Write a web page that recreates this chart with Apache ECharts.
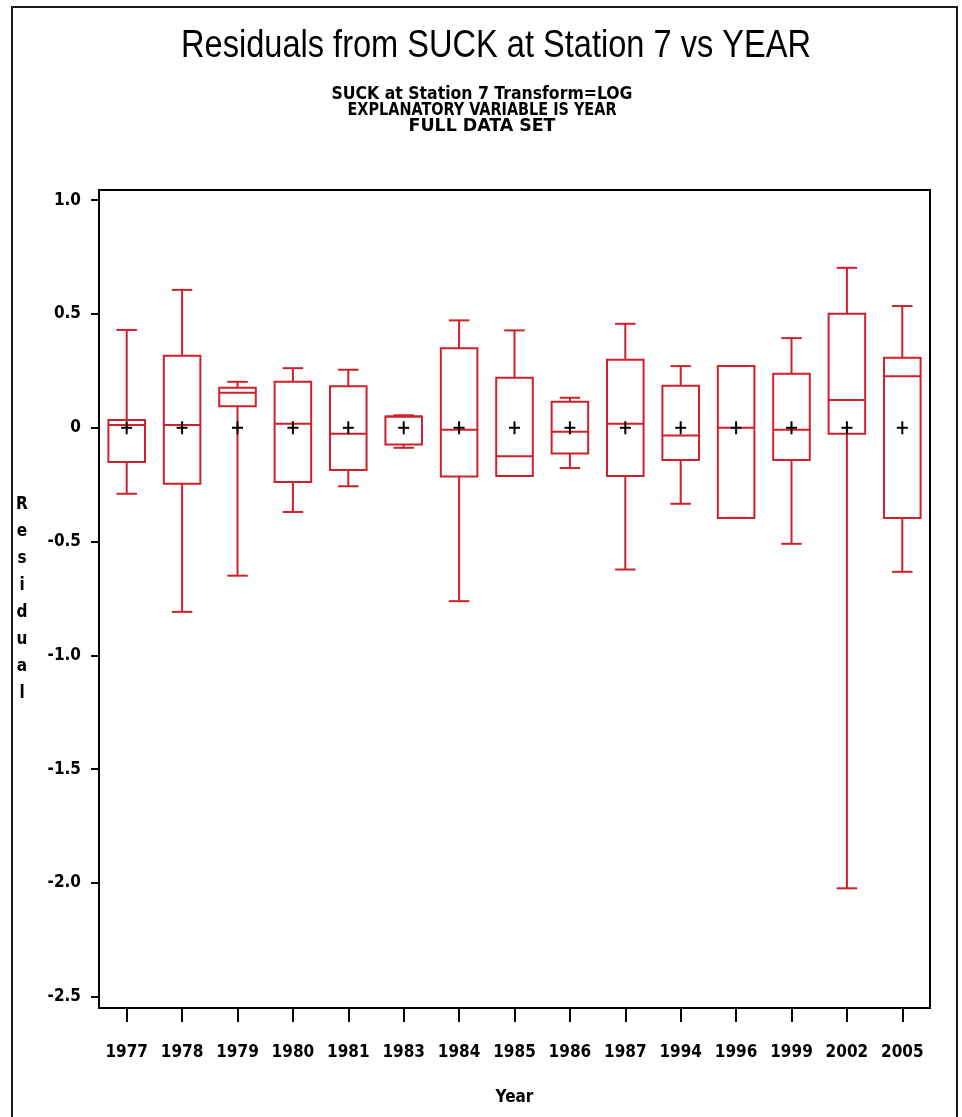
<!DOCTYPE html>
<html>
<head>
<meta charset="utf-8">
<script src="https://cdn.jsdelivr.net/npm/echarts@6/dist/echarts.min.js"></script>
<style>
  html, body { margin: 0; padding: 0; background: #ffffff; }
  #chart { width: 962px; height: 1117px; }
</style>
</head>
<body>
<div id="chart"></div>
<script>
// Residuals by year: whisker ends, quartiles, medians and means
const years = ['1977', '1978', '1979', '1980', '1981', '1983', '1984', '1985',
               '1986', '1987', '1994', '1996', '1999', '2002', '2005'];
const whiskerLow  = [-0.29, -0.809, -0.650, -0.370, -0.257, -0.088, -0.762, -0.212,
                     -0.177, -0.623, -0.334, -0.396, -0.510, -2.024, -0.633];
const quart1      = [-0.150, -0.246, 0.095, -0.238, -0.186, -0.073, -0.214, -0.212,
                     -0.113, -0.212, -0.142, -0.396, -0.142, -0.026, -0.396];
const medians     = [0.012, 0.012, 0.154, 0.018, -0.026, 0.050, -0.009, -0.125,
                     -0.018, 0.018, -0.034, 0.000, -0.009, 0.122, 0.227];
const quart3      = [0.034, 0.317, 0.176, 0.202, 0.183, 0.050, 0.350, 0.220,
                     0.114, 0.299, 0.185, 0.271, 0.237, 0.501, 0.308];
const whiskerHigh = [0.430, 0.606, 0.202, 0.262, 0.255, 0.055, 0.472, 0.428,
                     0.132, 0.457, 0.271, 0.271, 0.394, 0.703, 0.535];
const means       = [0, 0, 0, 0, 0, 0, 0, 0, 0, 0, 0, 0, 0, 0, 0];
const yTicks      = [1.0, 0.5, 0, -0.5, -1.0, -1.5, -2.0, -2.5];

const titleText = 'Residuals from SUCK at Station 7 vs YEAR';
const subTitles = ['SUCK at Station 7 Transform=LOG', 'EXPLANATORY VARIABLE IS YEAR', 'FULL DATA SET'];
const xName = 'Year';
const yName = 'Residual';

const RED = '#d0202a';
const INK = '#000000';
const condensed = "'DejaVu Sans Condensed', 'Liberation Sans Narrow', 'DejaVu Sans', sans-serif";
const swiss = "'Liberation Sans', Arial, sans-serif";

// horizontal squeeze so a text line spans the wanted width
const measureCtx = document.createElement('canvas').getContext('2d');
function squeeze(text, font, width) {
  measureCtx.font = font;
  return width / measureCtx.measureText(text).width;
}

const titleFont = { fontSize: 39, fontFamily: swiss, fontWeight: 'normal' };
const subFont = { fontSize: 17, fontFamily: condensed, fontWeight: 'bold' };
const subWidths = [301, 269, 147];
const subY = [95, 111, 127];

const graphics = [
  {
    type: 'rect', silent: true,
    shape: { x: 12, y: 7, width: 945, height: 1200 },
    style: { fill: 'none', stroke: '#1a1a1a', lineWidth: 2 }
  },
  {
    type: 'text', x: 496, y: 46,
    scaleX: squeeze(titleText, '39px ' + swiss, 630),
    style: Object.assign({ text: titleText, fill: INK, align: 'center', verticalAlign: 'middle' }, titleFont)
  }
];
subTitles.forEach(function (t, k) {
  graphics.push({
    type: 'text', x: 482, y: subY[k],
    scaleX: squeeze(t, 'bold 17px ' + condensed, subWidths[k]),
    style: Object.assign({ text: t, fill: INK, align: 'center', verticalAlign: 'middle' }, subFont)
  });
});

const boxData = years.map(function (y, i) {
  return [i, whiskerLow[i], quart1[i], medians[i], quart3[i], whiskerHigh[i], means[i]];
});

function renderBox(params, api) {
  const i = api.value(0);
  const band = api.size([1, 0])[0];
  const half = band * 0.33;
  const cap = band * 0.185;
  const x = api.coord([i, 0])[0];
  const yLo = api.coord([i, api.value(1)])[1];
  const yQ1 = api.coord([i, api.value(2)])[1];
  const yMed = api.coord([i, api.value(3)])[1];
  const yQ3 = api.coord([i, api.value(4)])[1];
  const yHi = api.coord([i, api.value(5)])[1];
  const yMean = api.coord([i, api.value(6)])[1];
  const red = { stroke: RED, lineWidth: 2, fill: 'none' };
  const ink = { stroke: INK, lineWidth: 2 };
  const children = [
    { type: 'line', shape: { x1: x, y1: yQ3, x2: x, y2: yHi }, style: red },
    { type: 'line', shape: { x1: x - cap, y1: yHi, x2: x + cap, y2: yHi }, style: red },
    { type: 'line', shape: { x1: x, y1: yQ1, x2: x, y2: yLo }, style: red },
    { type: 'line', shape: { x1: x - cap, y1: yLo, x2: x + cap, y2: yLo }, style: red },
    { type: 'rect', shape: { x: x - half, y: yQ3, width: 2 * half, height: yQ1 - yQ3 }, style: red },
    { type: 'line', shape: { x1: x - half, y1: yMed, x2: x + half, y2: yMed }, style: red },
    { type: 'line', shape: { x1: x - 5.5, y1: yMean, x2: x + 5.5, y2: yMean }, style: ink },
    { type: 'line', shape: { x1: x, y1: yMean - 6.5, x2: x, y2: yMean + 6.5 }, style: ink }
  ];
  return { type: 'group', children: children };
}

const axisFont = { color: INK, fontFamily: condensed, fontWeight: 'bold', fontSize: 17 };

const option = {
  backgroundColor: '#ffffff',
  animation: false,
  graphic: graphics,
  grid: {
    left: 99, right: 32, top: 190, bottom: 109,
    show: true, borderColor: INK, borderWidth: 2, backgroundColor: 'transparent'
  },
  xAxis: {
    type: 'category',
    data: years,
    boundaryGap: true,
    axisLine: { show: true, onZero: false, lineStyle: { color: INK, width: 2 } },
    axisTick: { show: true, alignWithLabel: true, interval: 0, length: 14, lineStyle: { color: INK, width: 2 } },
    axisLabel: Object.assign({ margin: 36, interval: 0 }, axisFont),
    splitLine: { show: false },
    name: xName,
    nameLocation: 'middle',
    nameGap: 81,
    nameTextStyle: axisFont
  },
  yAxis: {
    type: 'value',
    min: -2.55,
    max: 1.045,
    axisLine: { show: true, onZero: false, lineStyle: { color: INK, width: 2 } },
    axisTick: { show: true, length: 8, customValues: yTicks, lineStyle: { color: INK, width: 2 } },
    axisLabel: Object.assign({
      margin: 18,
      customValues: yTicks,
      formatter: function (v) { return v === 0 ? '0' : v.toFixed(1); }
    }, axisFont),
    splitLine: { show: false },
    name: yName.split('').join('\n'),
    nameLocation: 'middle',
    nameRotate: 0,
    nameGap: 77,
    nameTextStyle: Object.assign({ align: 'center', verticalAlign: 'middle', lineHeight: 27 }, axisFont)
  },
  series: [{
    type: 'custom',
    renderItem: renderBox,
    data: boxData,
    encode: { x: 0, y: [1, 2, 3, 4, 5, 6] },
    clip: false,
    silent: true
  }]
};

const chart = echarts.init(document.getElementById('chart'), null, { renderer: 'canvas' });
chart.setOption(option);
</script>
</body>
</html>
